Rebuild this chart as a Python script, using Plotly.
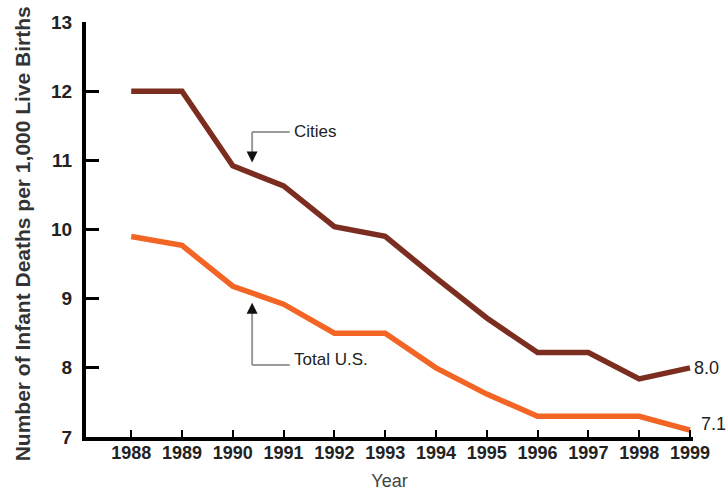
import plotly.graph_objects as go

years = [1988, 1989, 1990, 1991, 1992, 1993, 1994, 1995, 1996, 1997, 1998, 1999]
year_labels = [str(y) for y in years]
cities = [12.0, 12.0, 10.92, 10.63, 10.04, 9.9, 9.3, 8.72, 8.22, 8.22, 7.84, 8.0]
total_us = [9.9, 9.77, 9.18, 8.92, 8.5, 8.5, 8.0, 7.62, 7.3, 7.3, 7.3, 7.1]
y_ticks = [7, 8, 9, 10, 11, 12, 13]

CITY_COLOR = "#7b2e1f"
US_COLOR = "#f26524"
FONT = "Liberation Sans, Arial, sans-serif"

fig = go.Figure()
fig.add_trace(go.Scatter(x=years, y=cities, mode="lines", name="Cities",
                         line=dict(color=CITY_COLOR, width=5.5), hoverinfo="x+y"))
fig.add_trace(go.Scatter(x=years, y=total_us, mode="lines", name="Total U.S.",
                         line=dict(color=US_COLOR, width=5.5), hoverinfo="x+y"))

# leader lines for labels
gray = "#9a9a9a"
fig.add_shape(type="line", x0=1990.38, x1=1991.12, y0=11.41, y1=11.41,
              line=dict(color=gray, width=2))
fig.add_shape(type="line", x0=1990.38, x1=1991.12, y0=8.04, y1=8.04,
              line=dict(color=gray, width=2))
fig.add_shape(type="line", x0=1990.38, x1=1990.38, y0=11.41, y1=11.0,
              line=dict(color=gray, width=2))
fig.add_shape(type="line", x0=1990.38, x1=1990.38, y0=8.04, y1=8.9,
              line=dict(color=gray, width=2))
# black arrowheads
fig.add_annotation(x=1990.38, y=10.97, xref="x", yref="y", ax=0, ay=-8,
                   text="", showarrow=True, arrowhead=2, arrowsize=1.1,
                   arrowwidth=2, arrowcolor="#111")
fig.add_annotation(x=1990.38, y=8.94, xref="x", yref="y", ax=0, ay=8,
                   text="", showarrow=True, arrowhead=2, arrowsize=1.1,
                   arrowwidth=2, arrowcolor="#111")
fig.add_annotation(x=1991.17, y=11.42, xref="x", yref="y", text="Cities",
                   showarrow=False, xanchor="left", yanchor="middle",
                   font=dict(family=FONT, size=17, color="#222"))
fig.add_annotation(x=1991.17, y=8.12, xref="x", yref="y", text="Total U.S.",
                   showarrow=False, xanchor="left", yanchor="middle",
                   font=dict(family=FONT, size=17, color="#222"))

# end value labels
fig.add_annotation(x=years[-1], y=cities[-1], xref="x", yref="y",
                   text=f"{cities[-1]:.1f}", showarrow=False, xanchor="left",
                   xshift=2, yanchor="middle",
                   font=dict(family=FONT, size=18, color="#222"))
fig.add_annotation(x=years[-1], y=total_us[-1], xref="x", yref="y",
                   text=f"{total_us[-1]:.1f}", showarrow=False, xanchor="left",
                   xshift=9, yshift=6, yanchor="middle",
                   font=dict(family=FONT, size=18, color="#222"))

# y-axis title as rotated annotation
fig.add_annotation(x=-0.105, y=0.489, xref="paper", yref="paper",
                   xanchor="center", yanchor="middle",
                   text="<b>Number of Infant Deaths per 1,000 Live Births</b>",
                   textangle=-90, showarrow=False,
                   font=dict(family=FONT, size=21, color="#333"))

fig.update_layout(
    width=728, height=493,
    margin=dict(l=86, r=35, t=22, b=56, autoexpand=False),
    paper_bgcolor="white", plot_bgcolor="white",
    showlegend=False,
    font=dict(family=FONT, color="#222"),
)
fig.update_xaxes(
    range=[1987.11, 1999.06], tickmode="array", tickvals=years,
    ticktext=[f"<b>{t}</b>" for t in year_labels], automargin=False,
    showgrid=False, zeroline=False, showline=True, linecolor="black", linewidth=4,
    ticks="inside", ticklen=7, tickwidth=2, tickcolor="black",
    tickfont=dict(family=FONT, size=18, color="#222"),
    ticklabelstandoff=-4,
    title=dict(text="Year", standoff=14, font=dict(family=FONT, size=18, color="#444")),
)
fig.update_yaxes(
    range=[7, 13], tickmode="array", tickvals=y_ticks,
    ticktext=[f"<b>{v}</b>" for v in y_ticks], automargin=False,
    showgrid=False, zeroline=False, showline=True, linecolor="black", linewidth=4,
    ticks="inside", ticklen=13, tickwidth=3, tickcolor="black",
    tickfont=dict(family=FONT, size=19, color="#222"),
    ticklabelstandoff=6,
)

fig.write_html("out.html", config={"displayModeBar": False},
               post_script="document.body.style.margin='0';document.body.style.overflow='hidden';")
